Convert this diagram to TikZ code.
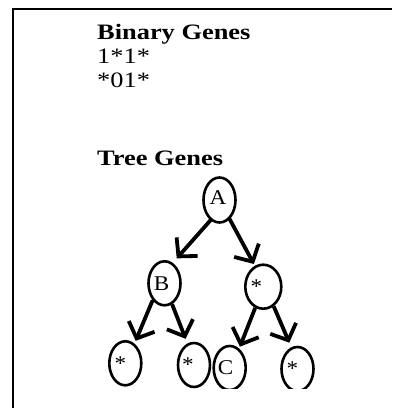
\documentclass[tikz,border=0pt]{standalone}
\usepackage{fontspec}
\setmainfont{Liberation Serif}
\newfontfamily\genefont[FakeStretch=1.2]{Liberation Serif}
\newfontfamily\nodefont[FakeStretch=1.1]{Liberation Serif}
\usetikzlibrary{shapes.geometric,arrows.meta}

\tikzset{
  heading/.style={anchor=base west, inner sep=0pt, font=\genefont\fontsize{22}{26}\selectfont\bfseries},
  genes/.style={anchor=base west, inner sep=0pt, font=\genefont\fontsize{22}{26}\selectfont},
  gene/.style={draw, ellipse, line width=2.6pt, inner sep=0pt, minimum width=32pt, minimum height=44pt, font=\nodefont\fontsize{21}{24}\selectfont},
  branch/.style={line width=3.8pt, -{Straight Barb[length=13pt,width=28pt]}},
}

\begin{document}
\begin{tikzpicture}[x=1pt, y=-1pt]
    \useasboundingbox (0,0) rectangle (392,408);

    % Frame
    % ---------------------
    \draw[line width=2.4pt] (13,408) |- (392,9);

    % Binary genes
    % ---------------------
    \node[heading] (binary) at (97,39.5) {Binary Genes};
    \node[genes] (first) at (97,63.5) {1*1*};
    \node[genes] (second) at (97,87.5) {*01*};

    % Tree genes
    % ---------------------
    \node[heading] (tree) at (97,165.7) {Tree Genes};
    \begin{scope}
      \clip (0,0) rectangle (392,388);
      \node[gene, minimum height=45pt] (A) at (219.5,200) {\raisebox{4pt}{\hspace*{-3pt}A}};
      \node[gene] (B) at (164.5,283.3) {\hspace*{-6pt}\raisebox{-3pt}{B}};
      \node[gene, minimum width=36pt] (S) at (263.3,286.7) {\hspace*{-14pt}*};
      \node[gene] (S1) at (125.3,363.3) {\hspace*{-10pt}*};
      \node[gene] (S2) at (194,365) {\hspace*{-12pt}*};
      \node[gene] (C) at (229.7,368) {\hspace*{-8pt}\raisebox{-4pt}{C}};
      \node[gene] (S4) at (297.5,369) {\hspace*{-10pt}*};
    \end{scope}
    \draw[branch, shorten <=-1pt, shorten >=6pt] (A.246) -- (B.68);
    \draw[branch, shorten <=-1pt, shorten >=2pt] (A.298) -- (S.112);
    \draw[branch, shorten >=3pt] (B.235) -- (S1.65);
    \draw[branch, shorten >=5pt] (B.290) -- (S2.107);
    \draw[branch, shorten >=2pt] (S.249) -- (C.64);
    \draw[branch, shorten >=5pt] (S.298) -- (S4.106);
  \end{tikzpicture}
\end{document}
